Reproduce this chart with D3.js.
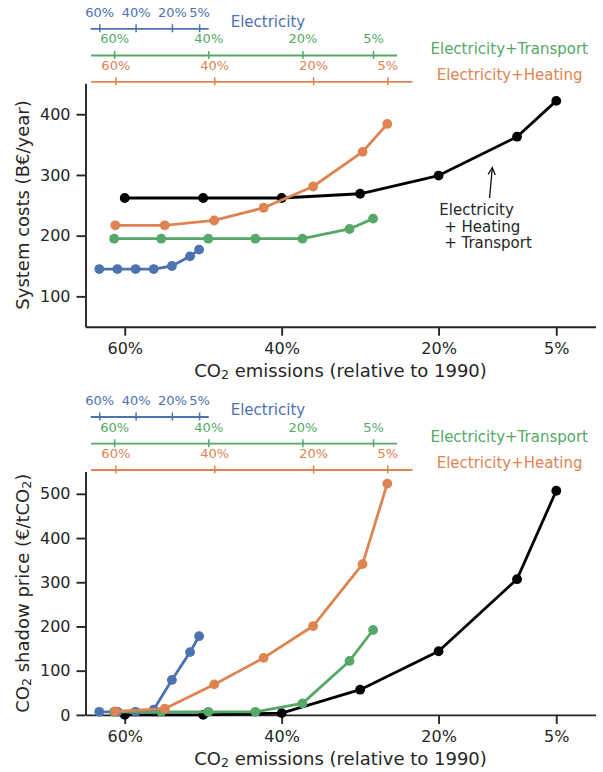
<!DOCTYPE html>
<html><head><meta charset="utf-8">
<script src="https://cdn.jsdelivr.net/npm/d3@7"></script>
<style>
body{margin:0;background:#fff;}
svg{display:block;font-family:"DejaVu Sans",sans-serif;}
</style></head><body>
<svg id="chart" width="603" height="772"></svg>
<script>
// ---------------- data ----------------
const levels = [60, 50, 40, 30, 20, 10, 5];           // CO2 emission level (% of 1990) of each scenario
const tickPercents = [60, 40, 20, 5];
const sectorNames = ["Electricity", "Electricity+Transport", "Electricity+Heating"];

const costElec          = [145, 145, 145, 145, 150, 166, 177];
const costElecTransport = [195, 195, 195, 195, 195, 211, 228];
const costElecHeating   = [217, 217, 225, 246, 281, 338, 384];
const costAll           = [262, 262, 262, 269, 299, 363, 422];

const priceElec          = [7, 7, 7, 12, 79, 142, 178];
const priceElecTransport = [7, 7, 7, 7, 26, 122, 192];
const priceElecHeating   = [8, 14, 69, 129, 201, 341, 523];
const priceAll           = [0, 0, 4, 57, 144, 307, 507];

const costTicks = [100, 200, 300, 400];
const priceTicks = [0, 100, 200, 300, 400, 500];

const annotationLines = ["Electricity", " + Heating", " + Transport"];
const annotationText = {p: 19.9, v: 234};       // text anchor (data coords, top panel)
const annotationArrow = {from: {p: 13.5, v: 262}, to: {p: 13.15, v: 312}};

// ---------------- style / layout ----------------
const C = {elec: "#4c72b0", trans: "#55a868", heat: "#dd8452", all: "#000000", ink: "#262626"};
const sectorColors = [C.elec, C.trans, C.heat];
const panelShift = 388.2;
const plotTop = 83.3, plotBottom = 326.7;

const svg = d3.select("#chart");
const defs = svg.append("defs");
defs.append("marker").attr("id", "arrowhead")
  .attr("markerUnits", "userSpaceOnUse").attr("viewBox", "-9 -6 11 12")
  .attr("markerWidth", 11).attr("markerHeight", 12)
  .attr("refX", 0).attr("refY", 0).attr("orient", "auto")
  .append("path").attr("d", "M-7,-3.6L0,0L-7,3.6")
  .attr("fill", "none").attr("stroke", "#111").attr("stroke-width", 1.3);

const xMain = d3.scaleLinear().domain([65, 0]).range([85.5, 595.5]);
const xSector = [
  d3.scaleLinear().domain([65, 0]).range([90.2, 208.2]),
  d3.scaleLinear().domain([65, 0]).range([90.6, 396.6]),
  d3.scaleLinear().domain([65, 0]).range([90.6, 412.0])
];
const secLineY = [28.3, 55.0, 81.3];
const secLabelX = [230.7, 430.5, 436.7];

function subLabel(sel, parts) {
  parts.forEach(p => {
    if (p.sub) {
      sel.append("tspan").attr("font-size", "0.7em").attr("dy", "0.17em").text(p.t);
    } else if (p.after) {
      sel.append("tspan").attr("dy", "-0.119em").text(p.t);
    } else {
      sel.append("tspan").text(p.t);
    }
  });
}

function drawPanel(oy, yDomain, yTicks, yLabelParts, series) {
  const y = d3.scaleLinear().domain(yDomain).range([plotBottom + oy, plotTop + oy]);

  // secondary sector axes
  xSector.forEach((sc, i) => {
    const g = svg.append("g").attr("transform", `translate(0,${secLineY[i] + oy})`);
    g.call(d3.axisTop(sc).tickValues(tickPercents).tickFormat(d => d + "%")
      .tickSizeInner(4).tickSizeOuter(0));
    g.attr("font-family", "DejaVu Sans").attr("font-size", 13);
    g.select(".domain").attr("stroke", sectorColors[i]).attr("stroke-width", 1.8);
    g.selectAll(".tick line").attr("stroke", sectorColors[i]).attr("stroke-width", 1.5)
      .attr("y1", 4).attr("y2", -4);
    g.selectAll(".tick text").attr("fill", sectorColors[i]).attr("y", -11.7).attr("dy", 0);
    g.append("text").attr("x", secLabelX[i]).attr("y", -1.3)
      .attr("fill", sectorColors[i]).attr("font-size", 15).attr("text-anchor", "start")
      .text(sectorNames[i]);
  });

  // main axes
  const gx = svg.append("g").attr("transform", `translate(0,${plotBottom + oy})`);
  gx.call(d3.axisBottom(xMain).tickValues(tickPercents).tickFormat(d => d + "%")
    .tickSize(9).tickSizeOuter(0).tickPadding(7));
  gx.attr("font-family", "DejaVu Sans").attr("font-size", 16);
  gx.select(".domain").attr("stroke", C.ink).attr("stroke-width", 1.9);
  gx.selectAll(".tick line").attr("stroke", C.ink).attr("stroke-width", 1.9);
  gx.selectAll(".tick text").attr("fill", C.ink);

  const gy = svg.append("g").attr("transform", `translate(${xMain.range()[0]},0)`);
  gy.call(d3.axisLeft(y).tickValues(yTicks).tickSize(9).tickSizeOuter(0).tickPadding(6));
  gy.attr("font-family", "DejaVu Sans").attr("font-size", 16);
  gy.select(".domain").attr("stroke", C.ink).attr("stroke-width", 1.9);
  gy.selectAll(".tick line").attr("stroke", C.ink).attr("stroke-width", 1.9);
  gy.selectAll(".tick text").attr("fill", C.ink);

  // axis labels
  const xl = svg.append("text").attr("x", d3.mean(xMain.range())).attr("y", 376.6 + oy)
    .attr("text-anchor", "middle").attr("font-size", 18).attr("fill", C.ink);
  subLabel(xl, [{t: "CO"}, {t: "2", sub: true}, {t: " emissions (relative to 1990)", after: true}]);

  const cy = (plotTop + plotBottom) / 2 + oy;
  const yl = svg.append("text").attr("transform", `translate(29,${cy}) rotate(-90)`)
    .attr("text-anchor", "middle").attr("font-size", 18).attr("fill", C.ink);
  subLabel(yl, yLabelParts);

  // series
  series.forEach(s => {
    const pts = levels.map((p, i) => ({p, v: s.values[i]}));
    const line = d3.line().x(d => s.x(d.p)).y(d => y(d.v));
    svg.append("path").datum(pts).attr("d", line).attr("fill", "none")
      .attr("stroke", s.color).attr("stroke-width", 2.8).attr("stroke-linejoin", "round");
    svg.append("g").selectAll("circle").data(pts).join("circle")
      .attr("cx", d => s.x(d.p)).attr("cy", d => y(d.v)).attr("r", 4.9)
      .attr("fill", s.color);
  });
  return y;
}

const yCost = drawPanel(0, [50, 451], costTicks,
  [{t: "System costs (B€/year)"}],
  [
    {values: costAll, color: C.all, x: xMain},
    {values: costElec, color: C.elec, x: xSector[0]},
    {values: costElecTransport, color: C.trans, x: xSector[1]},
    {values: costElecHeating, color: C.heat, x: xSector[2]}
  ]);

drawPanel(panelShift, [0, 550.5], priceTicks,
  [{t: "CO"}, {t: "2", sub: true}, {t: " shadow price (€/tCO", after: true}, {t: "2", sub: true}, {t: ")", after: true}],
  [
    {values: priceAll, color: C.all, x: xMain},
    {values: priceElec, color: C.elec, x: xSector[0]},
    {values: priceElecTransport, color: C.trans, x: xSector[1]},
    {values: priceElecHeating, color: C.heat, x: xSector[2]}
  ]);

// annotation in the costs panel
svg.append("line")
  .attr("x1", xMain(annotationArrow.from.p)).attr("y1", yCost(annotationArrow.from.v))
  .attr("x2", xMain(annotationArrow.to.p)).attr("y2", yCost(annotationArrow.to.v))
  .attr("stroke", "#111").attr("stroke-width", 1.3).attr("marker-end", "url(#arrowhead)");
const at = svg.append("text").attr("font-size", 15).attr("fill", C.ink)
  .style("white-space", "pre");
annotationLines.forEach((s, i) => {
  at.append("tspan").attr("x", xMain(annotationText.p))
    .attr("y", yCost(annotationText.v) + i * 16.5).text(s);
});
</script>
</body></html>
